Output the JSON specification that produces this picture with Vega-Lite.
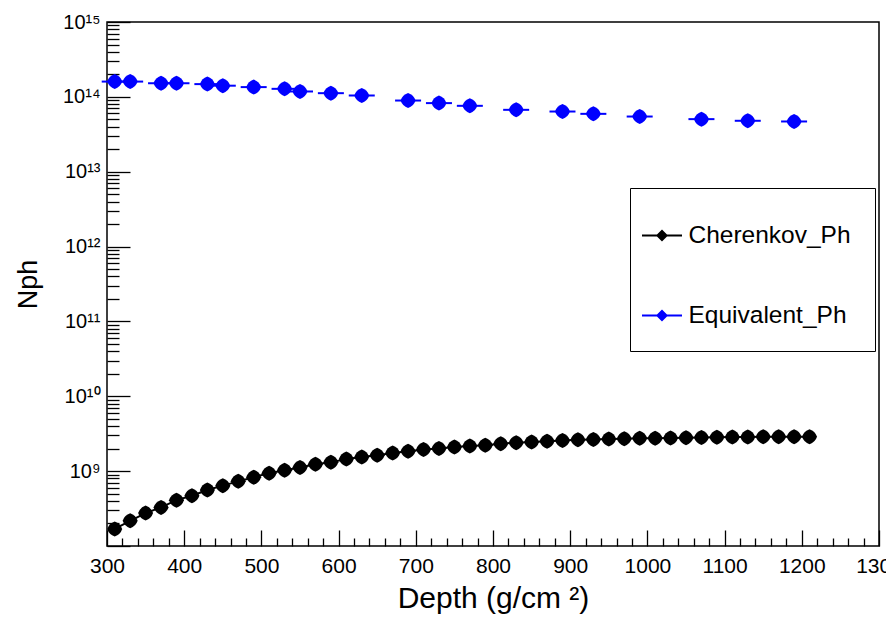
{
  "$schema": "https://vega.github.io/schema/vega-lite/v6.json",
  "width": 772,
  "height": 524,
  "autosize": {"type": "none"},
  "padding": {"left": 107, "top": 22, "right": 7, "bottom": 74},
  "background": "white",
  "config": {
    "view": {"stroke": "black", "strokeWidth": 1.5},
    "font": "Liberation Sans",
    "axis": {"domain": false, "grid": false, "tickColor": "black", "labelColor": "black", "titleColor": "black", "labelFont": "Liberation Sans", "titleFont": "Liberation Sans", "titleFontWeight": "normal", "tickWidth": 1.3}
  },
  "data": {"values": [
    {"series": "Cherenkov_Ph", "depth": 310, "nph": 1.69e8},
    {"series": "Cherenkov_Ph", "depth": 330, "nph": 2.17e8},
    {"series": "Cherenkov_Ph", "depth": 350, "nph": 2.75e8},
    {"series": "Cherenkov_Ph", "depth": 370, "nph": 3.28e8},
    {"series": "Cherenkov_Ph", "depth": 390, "nph": 4.1e8},
    {"series": "Cherenkov_Ph", "depth": 410, "nph": 4.69e8},
    {"series": "Cherenkov_Ph", "depth": 430, "nph": 5.6e8},
    {"series": "Cherenkov_Ph", "depth": 450, "nph": 6.4e8},
    {"series": "Cherenkov_Ph", "depth": 470, "nph": 7.3e8},
    {"series": "Cherenkov_Ph", "depth": 490, "nph": 8.3e8},
    {"series": "Cherenkov_Ph", "depth": 510, "nph": 9.4e8},
    {"series": "Cherenkov_Ph", "depth": 530, "nph": 1.03e9},
    {"series": "Cherenkov_Ph", "depth": 550, "nph": 1.12e9},
    {"series": "Cherenkov_Ph", "depth": 570, "nph": 1.24e9},
    {"series": "Cherenkov_Ph", "depth": 590, "nph": 1.31e9},
    {"series": "Cherenkov_Ph", "depth": 610, "nph": 1.45e9},
    {"series": "Cherenkov_Ph", "depth": 630, "nph": 1.55e9},
    {"series": "Cherenkov_Ph", "depth": 650, "nph": 1.63e9},
    {"series": "Cherenkov_Ph", "depth": 670, "nph": 1.75e9},
    {"series": "Cherenkov_Ph", "depth": 690, "nph": 1.85e9},
    {"series": "Cherenkov_Ph", "depth": 710, "nph": 1.95e9},
    {"series": "Cherenkov_Ph", "depth": 730, "nph": 2.01e9},
    {"series": "Cherenkov_Ph", "depth": 750, "nph": 2.1e9},
    {"series": "Cherenkov_Ph", "depth": 770, "nph": 2.17e9},
    {"series": "Cherenkov_Ph", "depth": 790, "nph": 2.22e9},
    {"series": "Cherenkov_Ph", "depth": 810, "nph": 2.33e9},
    {"series": "Cherenkov_Ph", "depth": 830, "nph": 2.4e9},
    {"series": "Cherenkov_Ph", "depth": 850, "nph": 2.45e9},
    {"series": "Cherenkov_Ph", "depth": 870, "nph": 2.5e9},
    {"series": "Cherenkov_Ph", "depth": 890, "nph": 2.57e9},
    {"series": "Cherenkov_Ph", "depth": 910, "nph": 2.62e9},
    {"series": "Cherenkov_Ph", "depth": 930, "nph": 2.65e9},
    {"series": "Cherenkov_Ph", "depth": 950, "nph": 2.68e9},
    {"series": "Cherenkov_Ph", "depth": 970, "nph": 2.7e9},
    {"series": "Cherenkov_Ph", "depth": 990, "nph": 2.74e9},
    {"series": "Cherenkov_Ph", "depth": 1010, "nph": 2.76e9},
    {"series": "Cherenkov_Ph", "depth": 1030, "nph": 2.78e9},
    {"series": "Cherenkov_Ph", "depth": 1050, "nph": 2.8e9},
    {"series": "Cherenkov_Ph", "depth": 1070, "nph": 2.82e9},
    {"series": "Cherenkov_Ph", "depth": 1090, "nph": 2.84e9},
    {"series": "Cherenkov_Ph", "depth": 1110, "nph": 2.85e9},
    {"series": "Cherenkov_Ph", "depth": 1130, "nph": 2.86e9},
    {"series": "Cherenkov_Ph", "depth": 1150, "nph": 2.87e9},
    {"series": "Cherenkov_Ph", "depth": 1170, "nph": 2.88e9},
    {"series": "Cherenkov_Ph", "depth": 1190, "nph": 2.88e9},
    {"series": "Cherenkov_Ph", "depth": 1210, "nph": 2.89e9},
    {"series": "Equivalent_Ph", "depth": 310, "nph": 1.6e14},
    {"series": "Equivalent_Ph", "depth": 330, "nph": 1.6e14},
    {"series": "Equivalent_Ph", "depth": 370, "nph": 1.52e14},
    {"series": "Equivalent_Ph", "depth": 390, "nph": 1.52e14},
    {"series": "Equivalent_Ph", "depth": 430, "nph": 1.48e14},
    {"series": "Equivalent_Ph", "depth": 450, "nph": 1.41e14},
    {"series": "Equivalent_Ph", "depth": 490, "nph": 1.35e14},
    {"series": "Equivalent_Ph", "depth": 530, "nph": 1.28e14},
    {"series": "Equivalent_Ph", "depth": 550, "nph": 1.18e14},
    {"series": "Equivalent_Ph", "depth": 590, "nph": 1.12e14},
    {"series": "Equivalent_Ph", "depth": 630, "nph": 1.04e14},
    {"series": "Equivalent_Ph", "depth": 690, "nph": 8.93e13},
    {"series": "Equivalent_Ph", "depth": 730, "nph": 8.25e13},
    {"series": "Equivalent_Ph", "depth": 770, "nph": 7.59e13},
    {"series": "Equivalent_Ph", "depth": 830, "nph": 6.71e13},
    {"series": "Equivalent_Ph", "depth": 890, "nph": 6.37e13},
    {"series": "Equivalent_Ph", "depth": 930, "nph": 5.93e13},
    {"series": "Equivalent_Ph", "depth": 990, "nph": 5.46e13},
    {"series": "Equivalent_Ph", "depth": 1070, "nph": 5.04e13},
    {"series": "Equivalent_Ph", "depth": 1130, "nph": 4.79e13},
    {"series": "Equivalent_Ph", "depth": 1190, "nph": 4.69e13}
  ]},
  "layer": [
    {
      "transform": [{"filter": "datum.series === 'Cherenkov_Ph'"}],
      "mark": {"type": "line", "color": "black", "strokeWidth": 2},
      "encoding": {
        "x": {"field": "depth", "type": "quantitative",
          "scale": {"domain": [300, 1300], "nice": false, "zero": false},
          "axis": {"orient": "bottom", "values": [300, 400, 500, 600, 700, 800, 900, 1000, 1100, 1200, 1300], "format": "d", "tickSize": -16, "labelFontSize": 21, "labelPadding": 25, "labelFlush": false, "labelOverlap": false,
            "title": "Depth (g/cm ²)", "titleFontSize": 30, "titleBaseline": "alphabetic", "titleY": 61}},
        "y": {"field": "nph", "type": "quantitative",
          "scale": {"type": "log", "domain": [1e8, 1e15], "nice": false},
          "axis": {"orient": "left", "values": [1e8, 1e9, 1e10, 1e11, 1e12, 1e13, 1e14, 1e15], "tickSize": -23, "labelFontSize": 20, "labelPadding": 30, "labelFlush": false, "labelOverlap": false,
            "labelExpr": "datum.value < 5e8 ? '' : '10' + ['','','','','','','','','⁸','⁹','¹⁰','¹¹','¹²','¹³','¹⁴','¹⁵'][round(log(datum.value)/LN10)]",
            "title": "Nph", "titleFontSize": 27, "titleBaseline": "alphabetic", "titleX": -71, "titleY": 262, "titleAngle": -90, "titleAlign": "center"}}
      }
    },
    {
      "mark": {"type": "point", "opacity": 0},
      "encoding": {
        "x": {"field": "depth", "type": "quantitative",
          "axis": {"orient": "bottom", "values": [320, 340, 360, 380, 420, 440, 460, 480, 520, 540, 560, 580, 620, 640, 660, 680, 720, 740, 760, 780, 820, 840, 860, 880, 920, 940, 960, 980, 1020, 1040, 1060, 1080, 1120, 1140, 1160, 1180, 1220, 1240, 1260, 1280], "tickSize": -8, "labels": false, "title": null}},
        "y": {"field": "nph", "type": "quantitative",
          "axis": {"orient": "left", "values": [2e8,3e8,4e8,5e8,6e8,7e8,8e8,9e8,2e9,3e9,4e9,5e9,6e9,7e9,8e9,9e9,2e10,3e10,4e10,5e10,6e10,7e10,8e10,9e10,2e11,3e11,4e11,5e11,6e11,7e11,8e11,9e11,2e12,3e12,4e12,5e12,6e12,7e12,8e12,9e12,2e13,3e13,4e13,5e13,6e13,7e13,8e13,9e13,2e14,3e14,4e14,5e14,6e14,7e14,8e14,9e14], "tickSize": -12, "labels": false, "title": null}}
      }
    },
    {
      "transform": [{"filter": "datum.series === 'Equivalent_Ph'"}],
      "mark": {"type": "tick", "orient": "horizontal", "color": "blue", "size": 26, "thickness": 2, "opacity": 1},
      "encoding": {
        "x": {"field": "depth", "type": "quantitative", "axis": null},
        "y": {"field": "nph", "type": "quantitative", "axis": null}
      }
    },
    {
      "mark": {"type": "point", "filled": true, "opacity": 1, "size": 225, "shape": "M0,-1Q0.75,-0.75,1,0Q0.75,0.75,0,1Q-0.75,0.75,-1,0Q-0.75,-0.75,0,-1Z"},
      "encoding": {
        "x": {"field": "depth", "type": "quantitative", "axis": null},
        "y": {"field": "nph", "type": "quantitative", "axis": null},
        "color": {"field": "series", "type": "nominal",
          "scale": {"domain": ["Cherenkov_Ph", "Equivalent_Ph"], "range": ["black", "blue"]},
          "legend": {"orient": "none", "legendX": 523, "legendY": 166, "title": null, "padding": 24, "strokeColor": "black", "fillColor": "white",
            "symbolType": "M-0.889,-0.044L0.889,-0.044L0.889,0.044L-0.889,0.044ZM0,-0.267L0.267,0L0,0.267L-0.267,0Z", "symbolSize": 2025, "rowPadding": 45,
            "labelFontSize": 24.5, "labelLimit": 400, "labelFont": "Liberation Sans", "labelColor": "black", "symbolOffset": -15.5, "labelOffset": 3,
            "encode": {"symbols": {"update": {
              "shape": {"value": "M-0.889,-0.044L0.889,-0.044L0.889,0.044L-0.889,0.044ZM0,-0.267L0.267,0L0,0.267L-0.267,0Z"},
              "size": {"value": 2025},
              "opacity": {"value": 1}}}}}}
      }
    }
  ],
  "resolve": {"axis": {"x": "independent", "y": "independent"}}
}
